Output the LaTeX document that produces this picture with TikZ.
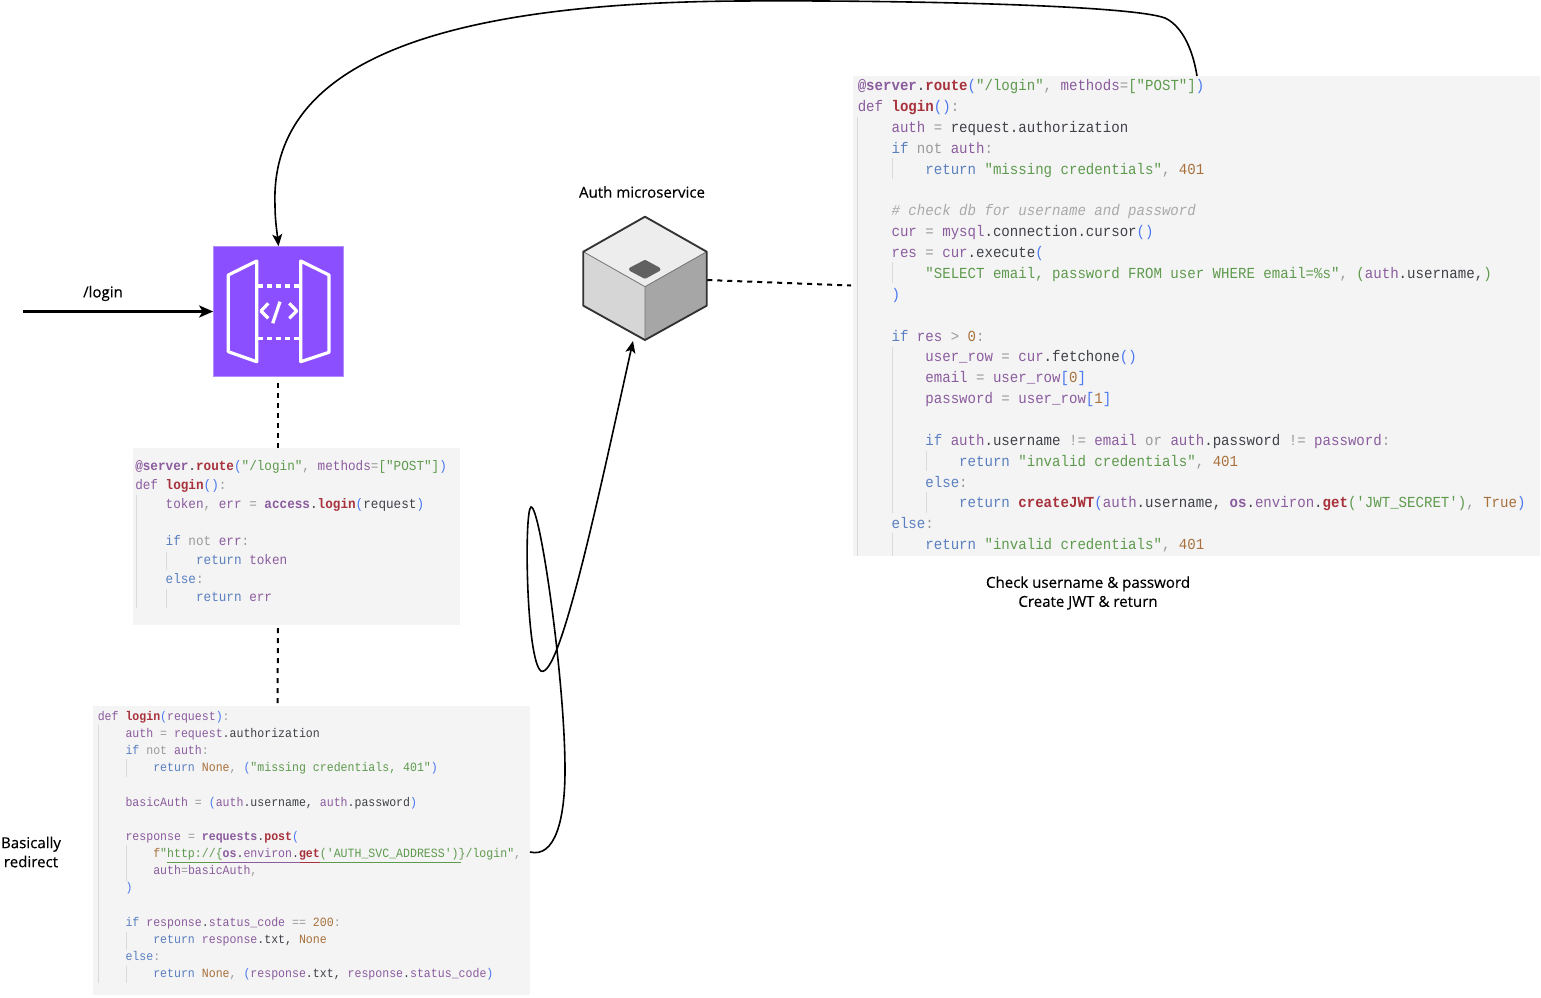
\documentclass[tikz,border=0pt]{standalone}
\usepackage{fontspec}
\usetikzlibrary{arrows.meta}
\newfontfamily\labelfont[FakeBold=0.35]{Open Sans}
\newfontfamily\codefont[FakeStretch=0.917]{Liberation Mono}
\definecolor{gwpurple}{HTML}{8C4FFF}
\definecolor{gwborder}{HTML}{B08CFF}
\definecolor{codebg}{HTML}{F4F4F4}
\definecolor{codeguide}{HTML}{DADADA}
\definecolor{cvar}{HTML}{8B5C9E}
\definecolor{ckey}{HTML}{5A7FC0}
\definecolor{cstr}{HTML}{5E9A4E}
\definecolor{cnum}{HTML}{A8703C}
\definecolor{cfun}{HTML}{A8323C}
\definecolor{cplain}{HTML}{3F4148}
\definecolor{cgray}{HTML}{9A9A9A}
\definecolor{cblue}{HTML}{4A78F0}
\newcommand\ckw[1]{\textcolor{ckey}{#1}}
\newcommand\cst[1]{\textcolor{cstr}{#1}}
\newcommand\cnm[1]{\textcolor{cnum}{#1}}
\newcommand\cfn[1]{\textcolor{cfun}{\bfseries #1}}
\newcommand\cob[1]{\textcolor{cvar}{\bfseries #1}}
\newcommand\cbr[1]{\textcolor{cblue}{#1}}
\newcommand\ccm[1]{\textcolor{cgray!85}{\itshape #1}}
\newcommand\cop[1]{\textcolor{cgray}{#1}}
\newcommand\cpl[1]{\textcolor{cplain}{#1}}
\newcommand\srvroute{\cob{@server}\cpl{.}\cfn{route}\cbr{(}\cst{"/login"}\cop{, }methods\cop{=}\cst{[}\cst{"POST"}\cst{]}\cbr{)}}
\tikzset{
	panel/.style={fill=codebg, inner sep=0pt, anchor=north west},
	codetext/.style={inner sep=0pt, anchor=north west, align=left, text=cvar},
	lbl/.style={font=\labelfont\fontsize{11.3}{14.3}\selectfont, align=center, inner sep=0pt},
	dashline/.style={line width=1.5pt, dash pattern=on 3.75pt off 3.75pt},
	curve/.style={line width=1.2pt, -{Stealth[length=9pt,width=7.5pt,inset=2.2pt]}},
	icon/.style={draw=white, line width=2.4pt, line join=round}
}
\begin{document}
\begin{tikzpicture}[x=0.75pt, y=-0.75pt, line cap=butt]
	\useasboundingbox (0,0) rectangle (1541,997);
	% panels behind the code
	\node[panel, minimum width=515.25pt, minimum height=360pt] (authbox) at (853,76) {};
	\node[panel, minimum width=245.25pt, minimum height=132.75pt] (loginbox) at (133,448) {};
	\node[panel, minimum width=327.75pt, minimum height=216.75pt] (reqbox) at (93,706) {};
	% indent guides
	\foreach\x/\a/\b in {857.5/117/556,892/158/179,892/262/283,892/347/513,892/533/556,926/451/471,926/492/513,
		136/495/608,166.7/552/570,166.7/589/608,
		98.5/725/983,126.4/759/777,126.4/845/881,126.4/932/950,126.4/966/983}
		\draw[codeguide, line width=0.6pt] (\x,\a)--(\x,\b);
	\draw[line width=0.6pt, cstr] (167,862)--(461,862);
	\draw[line width=0.6pt, cvar] (220,862)--(300,862);
	\draw[line width=0.6pt, cfun] (300,862)--(320,862);
	% code
	\node[codetext, font=\codefont\fontsize{11.52}{15.65}\selectfont] (authcode) at (857.5,79.2) {%
		\srvroute\\
		def \cfn{login}\cbr{()}\cop{:}\\
		~~~~auth \cop{=} \cpl{request.authorization}\\
		~~~~\ckw{if} \cop{not} auth\cop{:}\\
		~~~~~~~~\ckw{return} \cst{"missing credentials"}\cop{,} \cnm{401}\\
		~\\
		~~~~\ccm{\# check db for username and password}\\
		~~~~cur \cop{=} mysql\cpl{.connection.cursor}\cbr{()}\\
		~~~~res \cop{=} cur\cpl{.execute}\cbr{(}\\
		~~~~~~~~\cst{"SELECT email, password FROM user WHERE email=\%s"}\cop{,} \cst{(}auth\cpl{.username,}\cst{)}\\
		~~~~\cbr{)}\\
		~\\
		~~~~\ckw{if} res \cop{>} \cnm{0}\cop{:}\\
		~~~~~~~~user\_row \cop{=} cur\cpl{.fetchone}\cbr{()}\\
		~~~~~~~~email \cop{=} user\_row\cbr{[}\cnm{0}\cbr{]}\\
		~~~~~~~~password \cop{=} user\_row\cbr{[}\cnm{1}\cbr{]}\\
		~\\
		~~~~~~~~\ckw{if} auth\cpl{.username} \cop{!=} email \cop{or} auth\cpl{.password} \cop{!=} password\cop{:}\\
		~~~~~~~~~~~~\ckw{return} \cst{"invalid credentials"}\cop{,} \cnm{401}\\
		~~~~~~~~\ckw{else}\cop{:}\\
		~~~~~~~~~~~~\ckw{return} \cfn{createJWT}\cbr{(}auth\cpl{.username,} \cob{os}\cpl{.}environ\cpl{.}\cfn{get}\cst{('JWT\_SECRET')}\cop{,} \cnm{True}\cbr{)}\\
		~~~~\ckw{else}\cop{:}\\
		~~~~~~~~\ckw{return} \cst{"invalid credentials"}\cop{,} \cnm{401}};
	\node[codetext, font=\codefont\fontsize{10.36}{14.03}\selectfont] (logincode) at (135,460.6) {%
		\srvroute\\
		def \cfn{login}\cbr{()}\cop{:}\\
		~~~~token\cop{,} err \cop{=} \cob{access}\cpl{.}\cfn{login}\cbr{(}\cpl{request}\cbr{)}\\
		~\\
		~~~~\ckw{if} \cop{not} err\cop{:}\\
		~~~~~~~~\ckw{return} token\\
		~~~~\ckw{else}\cop{:}\\
		~~~~~~~~\ckw{return} err};
	\node[codetext, font=\codefont\fontsize{9.46}{12.85}\selectfont] (reqcode) at (97.5,711) {%
		def \cfn{login}\cbr{(}request\cbr{)}\cop{:}\\
		~~~~auth \cop{=} request\cpl{.authorization}\\
		~~~~\ckw{if} \cop{not} auth\cop{:}\\
		~~~~~~~~\ckw{return} \cnm{None}\cop{,} \cbr{(}\cst{"missing credentials, 401"}\cbr{)}\\
		~\\
		~~~~basicAuth \cop{=} \cbr{(}auth\cpl{.username,} auth\cpl{.password}\cbr{)}\\
		~\\
		~~~~response \cop{=} \cob{requests}\cpl{.}\cfn{post}\cbr{(}\\
		~~~~~~~~\cnm{f}\cst{"http://\{}\cob{os}\cpl{.}environ\cpl{.}\cfn{get}\cst{('AUTH\_SVC\_ADDRESS')\}/login"}\cop{,}\\
		~~~~~~~~auth\cop{=}basicAuth\cop{,}\\
		~~~~\cbr{)}\\
		~\\
		~~~~\ckw{if} response\cpl{.}status\_code \cop{==} \cnm{200}\cop{:}\\
		~~~~~~~~\ckw{return} response\cpl{.txt,} \cnm{None}\\
		~~~~\ckw{else}\cop{:}\\
		~~~~~~~~\ckw{return} \cnm{None}\cop{,} \cbr{(}response\cpl{.txt,} response\cpl{.}status\_code\cbr{)}};
	% api gateway
	\node[draw=gwborder, fill=gwpurple, minimum size=97.5pt, inner sep=0pt, line width=0.5pt] (gateway) at (278.5,311.5) {};
	\draw[icon] (228.3,275)--(256.7,261)--(256.7,361.7)--(228.3,351.7)--cycle
		(300.7,261)--(329,275)--(329,352.3)--(300.7,361.7)--cycle
		(268.3,303.3)--(261,311)--(268.3,318.3)
		(289.3,303.3)--(296.7,311)--(289.3,318.3)
		(280,301.7)--(272.7,323.3);
	\draw[draw=white, line width=2.4pt, dash pattern=on 3.6pt off 3.2pt] (258,286)--(300,286) (258,338.3)--(300,338.3);
	% auth service cube
	\node[minimum size=93pt, inner sep=0pt] (authsvc) at (645,280) {};
	\fill[black!7] (645,216.7)--(706.7,251.7)--(645,286.7)--(583.3,251.7)--cycle;
	\fill[black!16] (583.3,251.7)--(645,286.7)--(645,340)--(583.3,305.7)--cycle;
	\fill[black!35] (706.7,251.7)--(645,286.7)--(645,340)--(706.7,305.7)--cycle;
	\draw[black!55, line width=0.6pt] (583.3,251.7)--(645,286.7)--(706.7,251.7) (645,286.7)--(645,340);
	\draw[black!80, line width=1.4pt, line join=round] (645,216.7)--(706.7,251.7)--(706.7,305.7)--(645,340)--(583.3,305.7)--(583.3,251.7)--cycle;
	\fill[black!62, draw=black!62, line width=3pt, line join=round] (645,262)--(658.5,269.3)--(645,276.7)--(631,269.3)--cycle;
	% free ends of the connectors
	\coordinate (loginstart) at (23,311.5);
	\coordinate (authtop) at (1197,76);
	\coordinate (authin) at (851,285.5);
	\coordinate (reqout) at (530,852);
	\coordinate (cubein) at (633,341);
	% connectors
	\draw[line width=1.9pt, -{Stealth[length=10.5pt,width=9pt,inset=2.6pt]}] (loginstart)--(gateway.west);
	\draw[dashline] (gateway.south)++(-0.5,6)--(278,448);
	\draw[dashline] (278,628)--(277.5,706);
	\draw[dashline] (authsvc.east)--(authin);
	\draw[curve] (authtop) .. controls (1192,45) and (1180,25) .. (1165,18) .. controls (1130,5) and (900,0) .. (740,1) .. controls (420,3) and (270,70) .. (275,205) .. controls (275,220) and (277,232) .. (gateway.north);
	\draw[curve] (reqout) .. controls (555,858) and (565,820) .. (565,770) .. controls (565,680) and (540,505) .. (531,507) .. controls (524,510) and (526,660) .. (541,671) .. controls (560,680) and (600,490) .. (cubein);
	% labels
	\node[lbl] (loginlbl) at (103,293.5) {/login};
	\node[lbl] (authlbl) at (642,192) {Auth microservice};
	\node[lbl] (checklbl) at (1088,593) {Check username \& password\\Create JWT \& return};
	\node[lbl] (redirectlbl) at (31,852) {Basically\\redirect};
\end{tikzpicture}
\end{document}
